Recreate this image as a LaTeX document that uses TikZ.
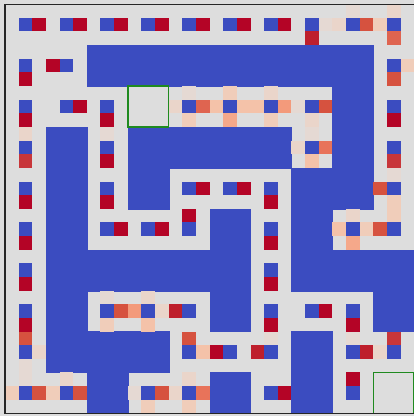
\documentclass[tikz,border=0pt]{standalone}
\usepackage{xcolor}
\usepackage{tikz}

\definecolor{cwBlue}{HTML}{3B4CC0}
\definecolor{cwGray}{HTML}{DDDDDD}
\definecolor{goalGreen}{HTML}{1F8A1F}
% reds of the value cells, faint to full
\definecolor{qa}{HTML}{E5D9D3}
\definecolor{qb}{HTML}{EAD5CA}
\definecolor{qc}{HTML}{F0CDBA}
\definecolor{qd}{HTML}{F4C2A9}
\definecolor{qe}{HTML}{F5A88A}
\definecolor{qf}{HTML}{F39A7B}
\definecolor{qg}{HTML}{E8735A}
\definecolor{qh}{HTML}{DF6450}
\definecolor{qi}{HTML}{D6523F}
\definecolor{qj}{HTML}{C8363A}
\definecolor{qk}{HTML}{BE1F2C}
\definecolor{ql}{HTML}{B40426}

\begin{document}
\begin{tikzpicture}[
 x=0.3cm,y=-0.3cm,
 wall/.style={fill=cwBlue,draw=cwBlue,line width=0.1pt},
 centre/.style={fill=cwBlue},
 goal/.style={draw=goalGreen,line width=0.95pt},
 frame/.style={draw=black!85,line width=0.8pt}]
\useasboundingbox[fill=cwGray] (-0.367,-0.308) rectangle (29.98,30.19);
% wall blocks (block row / block column, 3x3 cells each)
\foreach \R/\C in {1/2,1/3,1/4,1/5,1/6,1/7,1/8,2/8,
 3/1,3/3,3/4,3/5,3/6,3/8,4/1,4/3,4/7,4/8,5/1,5/5,5/7,
 6/1,6/2,6/3,6/4,6/5,6/7,6/8,6/9,7/1,7/5,7/9,
 8/1,8/2,8/3,8/7,9/2,9/5,9/7}
 \draw[wall] ({3*\C},{3*\R}) rectangle ++(3,3);
% centre of every open block
\foreach \R/\C in {0/0,0/1,0/2,0/3,0/4,0/5,0/6,0/7,0/8,0/9,
 1/0,1/1,1/9,2/0,2/1,2/2,2/4,2/5,2/6,2/7,2/9,
 3/0,3/2,3/7,3/9,4/0,4/2,4/4,4/5,4/6,4/9,
 5/0,5/2,5/3,5/4,5/6,5/8,5/9,6/0,6/6,
 7/0,7/2,7/3,7/4,7/6,7/7,7/8,8/0,8/4,8/5,8/6,8/8,8/9,
 9/0,9/1,9/3,9/4,9/6,9/8}
 \fill[centre] ({3*\C+1},{3*\R+1}) rectangle ++(1,1);
% value cells next to the centres
\foreach \r/\c/\q in {1/2/ql,1/5/ql,1/8/ql,1/11/ql,1/14/ql,1/17/ql,1/20/ql,
 2/22/qk,1/23/qa,1/24/qb,1/26/qi,0/25/qa,1/27/qc,0/28/qb,2/28/qh,
 5/1/ql,4/3/ql,5/28/qi,4/29/qc,
 8/1/ql,7/5/ql,8/7/ql,
 7/12/qb,7/14/qh,8/13/qc,6/13/qa,
 7/15/qd,7/17/qd,6/16/qc,8/16/qe,
 7/18/qd,7/20/qf,6/19/qb,8/19/qc,
 7/21/qa,7/23/qi,8/22/qb,8/28/ql,
 11/1/qj,9/1/qb,11/7/ql,9/7/qa,
 10/21/qb,10/23/qg,11/22/qd,9/22/qa,11/28/qj,
 14/1/ql,14/7/ql,13/14/ql,13/17/ql,14/19/ql,
 13/27/qi,14/28/qc,12/28/qa,
 17/1/ql,16/8/ql,16/11/ql,15/13/ql,17/19/ql,
 16/24/qd,16/26/qc,15/25/qb,17/25/qe,16/27/qi,15/28/qc,
 20/1/ql,20/19/ql,23/1/ql,
 22/8/qi,23/7/qc,21/7/qa,
 22/9/qf,22/11/qb,23/10/qd,21/10/qb,22/12/qk,
 23/19/ql,22/23/ql,23/25/ql,
 24/1/qi,25/2/qb,26/1/qa,24/13/qi,25/14/qd,25/15/ql,
 25/18/qk,24/19/qa,25/26/qk,24/25/qa,24/28/qj,25/27/qb,
 28/0/qc,28/2/qi,27/1/qa,28/3/qc,28/5/qi,27/4/qb,
 28/9/qa,28/11/qi,29/10/qc,
 28/12/qb,28/14/qg,27/13/qb,29/13/qc,
 28/20/ql,27/25/ql}
 \fill[\q] (\c,\r) rectangle ++(1,1);
% start and goal boxes
\draw[goal] (9,6) rectangle (12,9);
\draw[goal] (27,27) rectangle (30,30);
\draw[frame] (0,0) rectangle (30,30);
\end{tikzpicture}
\end{document}
